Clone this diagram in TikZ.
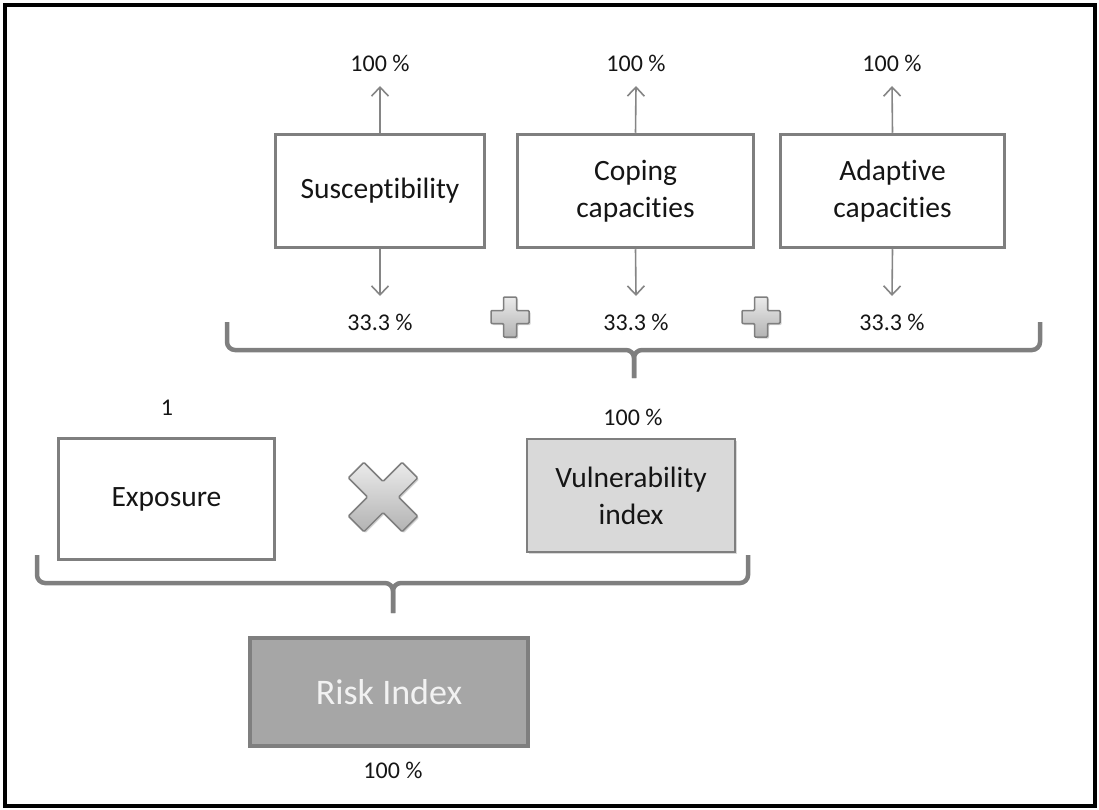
\documentclass[tikz,border=0pt]{standalone}
\usepackage{fontspec}
\setmainfont{Carlito}[Ligatures={NoCommon}]
\usetikzlibrary{arrows.meta,shadows}

\definecolor{edgegray}{HTML}{7F7F7F}
\definecolor{arrowgray}{HTML}{858585}
\definecolor{vulnfill}{HTML}{D9D9D9}
\definecolor{riskfill}{HTML}{A6A6A6}
\definecolor{inktext}{HTML}{151515}

\tikzset{
  box/.style={draw=edgegray, line width=3.5pt, fill=white, align=center,
    inner sep=0pt, text=inktext, font=\fontsize{29.5}{37}\selectfont},
  pct/.style={inner sep=0pt, text=inktext, font=\fontsize{24}{28}\selectfont},
  weightarrow/.style={draw=arrowgray, line width=1.6pt,
    -{Straight Barb[length=9pt,width=17pt,line width=1.6pt]}},
  brace/.style={draw=edgegray, line width=4.5pt, rounded corners=8pt},
  signfill/.style={draw=edgegray, line width=1.5pt, rounded corners=1pt,
    top color=white!92!black, bottom color=white!70!black,
    drop shadow={shadow xshift=1.5pt, shadow yshift=-1.5pt, opacity=0.35}},
  plus sign/.pic={
    \path[signfill] (-6.5,-20) -- (6.5,-20) -- (6.5,-6.5) -- (19,-6.5)
      -- (19,6.5) -- (6.5,6.5) -- (6.5,20) -- (-6.5,20) -- (-6.5,6.5)
      -- (-19,6.5) -- (-19,-6.5) -- (-6.5,-6.5) -- cycle;
  },
  times sign/.pic={
    \begin{scope}[rotate=45]
      \path[signfill] (-11,-38) -- (11,-38) -- (11,-11) -- (38,-11)
        -- (38,11) -- (11,11) -- (11,38) -- (-11,38) -- (-11,11)
        -- (-38,11) -- (-38,-11) -- (-11,-11) -- cycle;
    \end{scope}
  },
}

\begin{document}
\begin{tikzpicture}[x=1pt, y=-1pt]
\useasboundingbox (0,0) rectangle (1099,810);
\draw[line width=4pt] (5,5) rectangle (1095,806);

% vulnerability components
\node[box, minimum width=209pt, minimum height=113pt] (sus) at (380,191) {Susceptibility};
\node[box, minimum width=236pt, minimum height=113pt] (cop) at (635.5,191) {Coping\\capacities};
\node[box, minimum width=224pt, minimum height=113pt] (ada) at (892.5,191) {Adaptive\\capacities};

% weights above and below the components
\node[pct] (susfull) at (380,63) {100 \%};
\node[pct] (copfull) at (636,63) {100 \%};
\node[pct] (adafull) at (892,63) {100 \%};
\node[pct] (susw) at (380,322) {33.3 \%};
\node[pct] (copw) at (636,322) {33.3 \%};
\node[pct] (adaw) at (892,322) {33.3 \%};

\coordinate (susup) at (380,86);
\coordinate (copup) at (636,86);
\coordinate (adaup) at (892,86);
\coordinate (susdown) at (380,296);
\coordinate (copdown) at (636,296);
\coordinate (adadown) at (892,296);

\draw[weightarrow] (sus.north) -- (susup);
\draw[weightarrow] (cop.north) -- (copup);
\draw[weightarrow] (ada.north) -- (adaup);
\draw[weightarrow] (sus.south) -- (susdown);
\draw[weightarrow] (cop.south) -- (copdown);
\draw[weightarrow] (ada.south) -- (adadown);

\pic at (510,317) {plus sign};
\pic at (761,317) {plus sign};

% brace joining the three components
\draw[brace] (227,322) -- (227,350) -- (634,350) -- (634,378);
\draw[brace] (1040,322) -- (1040,350) -- (634,350) -- (634,378);

% risk components
\node[pct] (expw) at (167,408) {1};
\node[pct] (vulw) at (633,417) {100 \%};
\node[box, minimum width=216pt, minimum height=121pt] (exp) at (166.5,499) {Exposure};
\node[box, fill=vulnfill, line width=2.5pt, minimum width=208pt, minimum height=113pt,
  drop shadow={shadow xshift=1.5pt, shadow yshift=-2pt, opacity=0.3}] (vul) at (631,495.5)
  {Vulnerability\\index};

\pic at (383,497) {times sign};

% brace joining exposure and vulnerability
\draw[brace] (37,555) -- (37,583) -- (393,583) -- (393,613);
\draw[brace] (748,555) -- (748,583) -- (393,583) -- (393,613);

% resulting index
\node[box, fill=riskfill, line width=4pt, text=white!95!black, minimum width=278pt,
  minimum height=108pt, font=\fontsize{36}{42}\selectfont] (risk) at (389,692) {Risk Index};
\node[pct] (riskw) at (393,770) {100 \%};
\end{tikzpicture}
\end{document}
